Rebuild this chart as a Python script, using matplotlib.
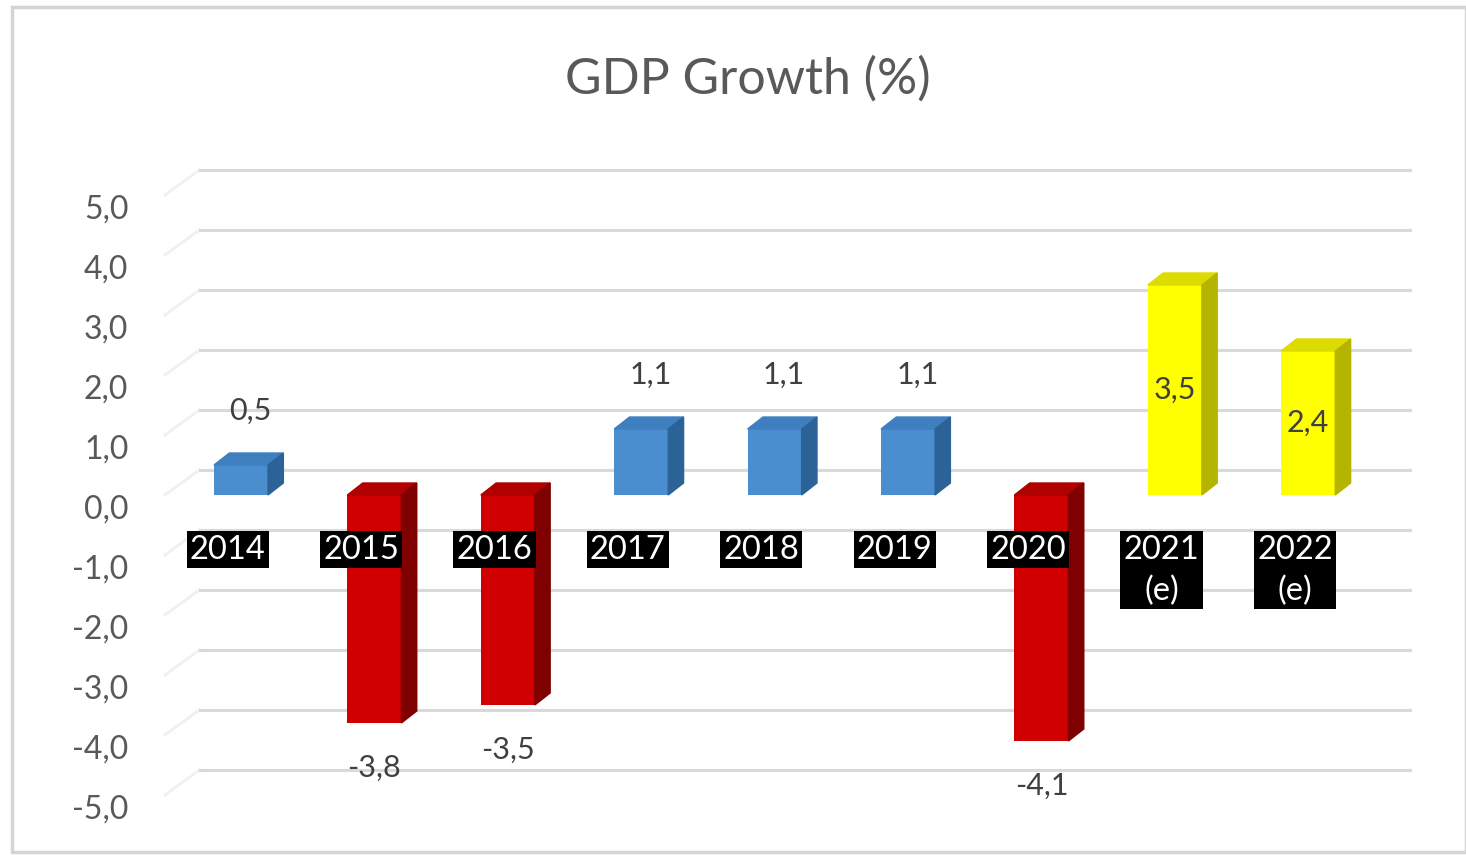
import numpy as np
import matplotlib.pyplot as plt
from matplotlib.patches import Polygon, Rectangle

# ── Data ───────────────────────────────────────────────────────────────────────
years     = ['2014', '2015', '2016', '2017', '2018', '2019', '2020', '2021\n(e)', '2022\n(e)']
growth    = [0.5, -3.8, -3.5, 1.1, 1.1, 1.1, -4.1, 3.5, 2.4]
estimate  = [False, False, False, False, False, False, False, True, True]
y_ticks   = [5, 4, 3, 2, 1, 0, -1, -2, -3, -4, -5]

# ── Style ──────────────────────────────────────────────────────────────────────
FONT = ['Lato', 'DejaVu Sans']
W, DX, DY = 0.405, 0.115, 0.2         # bar width and 3-D depth (data units)
WALL_DY = 0.42                         # back wall offset of the gridlines
FACES = {
    'blue':   ('#4A8ED0', '#3F7FBF', '#2C6397'),
    'red':    ('#D00000', '#B00000', '#7E0000'),
    'yellow': ('#FFFF00', '#DCDC00', '#B5B500'),
}
plt.rcParams['font.family'] = FONT

fig = plt.figure(figsize=(14.66, 8.55), dpi=100)
ax = fig.add_axes([0.0955, 0.0234, 0.8868, 0.7953])
ax.set_xlim(-0.757, 8.988)
ax.set_ylim(-5.667, 5.667)
ax.axis('off')

# chart frame
fig.patches.append(Rectangle((12 / 1466, 3 / 855), 1 - 12 / 1466, 1 - 10 / 855,
                             transform=fig.transFigure, fill=False,
                             edgecolor='#D4D4D4', lw=2.5))

# gridlines: side wall diagonal + back wall
x_side, x_back, x_right = -0.57, -0.31, 8.76
for v in y_ticks:
    ax.plot([x_side, x_back], [v, v + WALL_DY], color='#F0F0F0', lw=2, zorder=1)
    ax.plot([x_back, x_right], [v + WALL_DY] * 2, color='#D9D9D9', lw=2.2, zorder=1)
    ax.text(-0.009, v - 0.25, f'{v:.1f}'.replace('.', ','),
            transform=ax.get_yaxis_transform(), ha='right', va='center',
            fontsize=23, color='#595959')

# 3-D bars
xs = np.arange(len(years))
for x, v, est in zip(xs, growth, estimate):
    key = 'yellow' if est else ('red' if v < 0 else 'blue')
    front, top, side = FACES[key]
    l, r = x - W / 2, x + W / 2
    hi = max(v, 0)
    ax.bar(x, v, width=W, color=front, zorder=3)
    ax.add_patch(Polygon([(l, hi), (r, hi), (r + DX, hi + DY), (l + DX, hi + DY)],
                         closed=True, color=top, zorder=3))
    ax.add_patch(Polygon([(r, 0), (r, v), (r + DX, v + DY), (r + DX, DY)],
                         closed=True, color=side, zorder=3))

    lab = f'{v:.1f}'.replace('.', ',')
    if est:
        ax.text(x, v / 2, lab, ha='center', va='center', fontsize=22,
                color='#404040', zorder=5)
    elif v >= 0:
        ax.text(x + 0.07, v + 0.9, lab, ha='center', va='center', fontsize=22,
                color='#404040', zorder=5)
    else:
        ax.text(x + 0.0, v - 0.75, lab, ha='center', va='center', fontsize=22,
                color='#404040', zorder=5)

# category labels on black boxes
for x, yr in zip(xs, years):
    ax.text(x - 0.1, -0.66, yr, ha='center', va='top', fontsize=23.5,
            color='white', linespacing=1.45, zorder=6,
            bbox=dict(boxstyle='square,pad=0.1', fc='black', ec='none'))

fig.text(0.51, 0.907, 'GDP Growth (%)', ha='center', va='center',
         fontsize=36, color='#595959')

fig.savefig('out.png', dpi=100)
